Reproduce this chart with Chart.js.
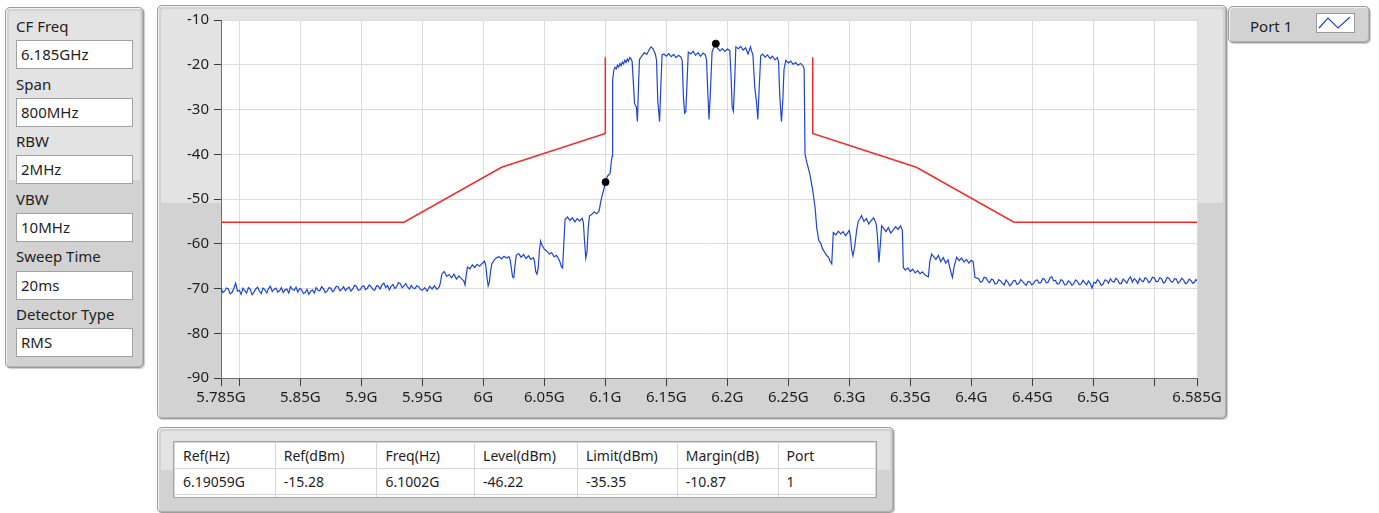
<!DOCTYPE html>
<html>
<head>
<meta charset="utf-8">
<script src="https://cdn.jsdelivr.net/npm/chart.js@4.4.1/dist/chart.umd.min.js"></script>
<style>
  body { margin:0; width:1379px; height:513px; background:#fff; overflow:hidden; position:relative;
         font-family:"Noto Sans", sans-serif; color:#1e1e1e; }
  .panel { position:absolute; box-sizing:border-box; border:1px solid #9c9c9c; border-radius:5px; background:#d2d2d2;
           box-shadow: inset 1px 1px 0 #f2f2f2, inset -1px -1px 0 #b4b4b4, 1px 1px 1px rgba(0,0,0,0.2); }
  .gloss { position:absolute; left:3px; right:3px; top:3px; height:47%; background:#e3e3e3; border-radius:3px 3px 0 0; }
  .lbl { position:absolute; font-size:15px; line-height:20px; white-space:nowrap; }
  .box { position:absolute; box-sizing:border-box; left:16px; width:117px; height:29px; background:#fff;
         border:1px solid #a2a2a2; font-size:15px; line-height:27px; padding-left:4px; }
  #chartWrap { position:absolute; left:158px; top:6px; width:1067px; height:411px; }
  #tableWrap { position:absolute; left:173px; top:441px; width:704px; height:57px; box-sizing:border-box;
               border:1px solid #a4a4a4; background:#fff; overflow:hidden; }
  #tableWrap table { border-collapse:collapse; font-size:14px; }
  #tableWrap td { border:1px solid #d6d6d6; height:25px; padding:0 0 0 8px; white-space:nowrap; }
</style>
</head>
<body>

<div class="panel" style="left:5px;top:7px;width:139px;height:361px"><div class="gloss"></div></div>
<div class="lbl" style="left:16px;top:16px">CF Freq</div>
<div class="box" style="top:40px">6.185GHz</div>
<div class="lbl" style="left:16px;top:74px">Span</div>
<div class="box" style="top:98px">800MHz</div>
<div class="lbl" style="left:16px;top:131px">RBW</div>
<div class="box" style="top:155px">2MHz</div>
<div class="lbl" style="left:16px;top:189px">VBW</div>
<div class="box" style="top:213px">10MHz</div>
<div class="lbl" style="left:16px;top:246px">Sweep Time</div>
<div class="box" style="top:271px">20ms</div>
<div class="lbl" style="left:16px;top:304px">Detector Type</div>
<div class="box" style="top:328px">RMS</div>

<div class="panel" style="left:157px;top:5px;width:1070px;height:414px"><div class="gloss"></div></div>
<div id="chartWrap"><canvas id="canvas"></canvas></div>

<div class="panel" style="left:1228px;top:6px;width:142px;height:37px"></div>
<div class="lbl" style="left:1250px;top:16px">Port 1</div>
<svg style="position:absolute;left:1316px;top:13px" width="39" height="20">
  <rect x="0.5" y="0.5" width="38" height="19" fill="#fff" stroke="#9a9a9a"/>
  <polyline points="3,15 12,5 22,15 34,4" fill="none" stroke="#1f45d4" stroke-width="1.2"/>
</svg>

<div class="panel" style="left:157px;top:427px;width:737px;height:86px"><div class="gloss"></div></div>
<div id="tableWrap"><table id="markerTable"></table></div>

<script>
// limit-line marker table
var tableHeaders = ['Ref(Hz)', 'Ref(dBm)', 'Freq(Hz)', 'Level(dBm)', 'Limit(dBm)', 'Margin(dB)', 'Port'];
var tableRow = ['6.19059G', '-15.28', '6.1002G', '-46.22', '-35.35', '-10.87', '1'];
var colWidths = [101, 102, 98, 103, 100, 101, 98];

// x axis (MHz)
var xTickValues = [5785, 5800, 5850, 5900, 5950, 6000, 6050, 6100, 6150, 6200, 6250, 6300, 6350, 6400, 6450, 6500, 6550, 6585];
var xTickLabels = ['5.785G', '', '5.85G', '5.9G', '5.95G', '6G', '6.05G', '6.1G', '6.15G', '6.2G', '6.25G', '6.3G', '6.35G', '6.4G', '6.45G', '6.5G', '', '6.585G'];

// measured spectrum, Port 1
var traceFreqMHz = [
  5785, 5786.5, 5788, 5789.5, 5791, 5792.5, 5794, 5795.5, 5797, 5798.5,
  5800, 5801.5, 5803, 5804.5, 5806, 5807.5, 5809, 5810.5, 5812, 5813.5,
  5815, 5816.5, 5818, 5819.5, 5821, 5822.5, 5824, 5825.5, 5827, 5828.5,
  5830, 5831.5, 5833, 5834.5, 5836, 5837.5, 5839, 5840.5, 5842, 5843.5,
  5845, 5846.5, 5848, 5849.5, 5851, 5852.5, 5854, 5855.5, 5857, 5858.5,
  5860, 5861.5, 5863, 5864.5, 5866, 5867.5, 5869, 5870.5, 5872, 5873.5,
  5875, 5876.5, 5878, 5879.5, 5881, 5882.5, 5884, 5885.5, 5887, 5888.5,
  5890, 5891.5, 5893, 5894.5, 5896, 5897.5, 5899, 5900.5, 5902, 5903.5,
  5905, 5906.5, 5908, 5909.5, 5911, 5912.5, 5914, 5915.5, 5917, 5918.5,
  5920, 5921.5, 5923, 5924.5, 5926, 5927.5, 5929, 5930.5, 5932, 5933.5,
  5935, 5936.5, 5938, 5939.5, 5941, 5942.5, 5944, 5945.5, 5947, 5948.5,
  5950,
  5952, 5954, 5956, 5958, 5960, 5962, 5964, 5965, 5966, 5968,
  5970, 5972, 5974, 5976, 5978, 5980, 5982, 5984, 5985, 5986,
  5987, 5989, 5991, 5993, 5995, 5997, 5999, 6001, 6002, 6003,
  6004, 6005, 6006, 6007, 6009, 6011, 6013, 6015, 6017, 6019,
  6021, 6022, 6023, 6024, 6025, 6026, 6027, 6029, 6031, 6033,
  6035, 6037, 6039, 6041, 6042, 6043, 6044, 6045, 6046, 6047,
  6048, 6050, 6052, 6054, 6056, 6058, 6060, 6062, 6063, 6064,
  6065, 6066, 6067, 6069, 6071, 6073, 6075, 6077, 6079, 6081,
  6082, 6083, 6084, 6085, 6086, 6087, 6089, 6091, 6093, 6095,
  6096, 6097, 6099, 6100.2, 6101, 6102, 6103, 6104, 6105, 6105.5,
  6106, 6107, 6108, 6109, 6110, 6111, 6112, 6113, 6114, 6115,
  6116, 6117, 6118, 6119, 6120, 6121, 6122, 6123, 6124, 6125.5,
  6126.3, 6127.3, 6128, 6130, 6132, 6134, 6136, 6137.5, 6139, 6140,
  6141, 6142, 6143, 6144.5, 6145.5, 6146.5, 6148, 6150, 6152, 6154,
  6156, 6158, 6160, 6162, 6163, 6164, 6165, 6166, 6167, 6168,
  6170, 6172, 6174, 6176, 6178, 6180, 6182, 6183, 6184, 6185,
  6186, 6187.5, 6188.5, 6190.59, 6192, 6194, 6196, 6198, 6200, 6202,
  6203, 6204, 6205, 6206, 6207, 6209, 6211, 6213, 6215, 6217,
  6219, 6220, 6221, 6222.5, 6224, 6225, 6226, 6227.4, 6229, 6231,
  6233, 6235, 6237, 6239, 6241, 6242, 6243, 6244.4, 6245.5, 6246.5,
  6248, 6250, 6252, 6254, 6256, 6258, 6260, 6262, 6263, 6263.7,
  6265, 6267.7, 6270, 6272, 6273.3, 6275, 6276.5, 6278, 6280, 6282,
  6283, 6284, 6285.6,
  6286.9, 6289, 6291, 6293, 6295, 6297, 6299, 6300, 6301, 6302,
  6303, 6304.5, 6306, 6307.4, 6309, 6310, 6312, 6314, 6316, 6318,
  6320, 6322, 6323, 6324.3, 6325.5, 6326.5, 6328, 6330, 6332, 6334,
  6336, 6338, 6340, 6342, 6343.5, 6344.3, 6346, 6348, 6350, 6352,
  6354, 6356, 6358, 6360, 6362, 6364.8, 6366, 6367.5, 6369, 6371,
  6373, 6375, 6377, 6379, 6381, 6382.5, 6384.5, 6386, 6388, 6390,
  6392, 6394, 6396, 6398, 6400, 6401.5, 6403,
  6406, 6407.5, 6409, 6410.5, 6412, 6413.5, 6415, 6416.5, 6418, 6419.5,
  6421, 6422.5, 6424, 6425.5, 6427, 6428.5, 6430, 6431.5, 6433, 6434.5,
  6436, 6437.5, 6439, 6440.5, 6442, 6443.5, 6445, 6446.5, 6448, 6449.5,
  6451, 6452.5, 6454, 6455.5, 6457, 6458.5, 6460, 6461.5, 6463, 6464.5,
  6466, 6467.5, 6469, 6470.5, 6472, 6473.5, 6475, 6476.5, 6478, 6479.5,
  6481, 6482.5, 6484, 6485.5, 6487, 6488.5, 6490, 6491.5, 6493, 6494.5,
  6496, 6497.5, 6499, 6500.5, 6502, 6503.5, 6505, 6506.5, 6508, 6509.5,
  6511, 6512.5, 6514, 6515.5, 6517, 6518.5, 6520, 6521.5, 6523, 6524.5,
  6526, 6527.5, 6529, 6530.5, 6532, 6533.5, 6535, 6536.5, 6538, 6539.5,
  6541, 6542.5, 6544, 6545.5, 6547, 6548.5, 6550, 6551.5, 6553, 6554.5,
  6556, 6557.5, 6559, 6560.5, 6562, 6563.5, 6565, 6566.5, 6568, 6569.5,
  6571, 6572.5, 6574, 6575.5, 6577, 6578.5, 6580, 6581.5, 6583, 6584,
  6585
];
var traceLevelDbm = [
  -69.8, -70.9, -70.6, -69.9, -70.1, -71.2, -70.9, -70.0, -68.8, -70.6,
  -70.4, -71.3, -69.9, -70.5, -71.0, -69.8, -70.2, -71.4, -70.8, -70.1,
  -69.7, -70.6, -71.1, -69.9, -70.3, -71.0, -70.0, -69.5, -70.7, -70.2,
  -69.9, -70.8, -70.5, -69.8, -70.9, -70.3, -70.1, -71.0, -69.6, -70.2,
  -70.4, -69.7, -70.8, -70.0, -70.2, -71.1, -70.9, -70.2, -71.3, -70.6,
  -70.3, -71.0, -69.8, -70.4, -70.5, -69.6, -70.1, -70.9, -70.6, -69.8,
  -69.9, -70.7, -70.3, -69.5, -69.6, -70.5, -70.2, -69.6, -70.5, -70.0,
  -69.7, -70.6, -70.1, -69.3, -69.5, -70.4, -70.3, -69.6, -69.4, -70.3,
  -69.9, -69.2, -69.6, -70.2, -70.4, -69.4, -69.5, -70.1, -69.2, -68.8,
  -69.8, -69.3, -70.3, -69.5, -69.1, -70.0, -69.6, -68.7, -68.9, -69.8,
  -69.4, -68.9, -69.7, -70.1, -69.3, -69.9, -70.0, -69.4, -69.6, -70.2,
  -70.4,
  -69.8, -70.6, -69.5, -70.1, -69.4, -70.2, -69.6, -68.5, -66.8, -66.2,
  -67.3, -66.9, -67.6, -66.8, -67.9, -67.2, -67.8, -68.3, -69.2, -67.0,
  -65.2, -65.6, -64.7, -65.3, -64.6, -65.0, -64.4, -63.9, -64.8, -67.5,
  -69.4, -68.6, -66.0, -64.5, -63.6, -63.1, -62.9, -63.4, -62.8, -63.2,
  -62.9, -63.6, -65.5, -67.4, -67.6, -64.8, -62.6, -62.2, -63.0, -62.4,
  -63.3, -62.7, -63.5, -63.1, -63.9, -66.2, -66.8, -65.5, -61.5, -59.4,
  -60.3, -61.2, -61.6, -62.3, -62.0, -62.9, -62.6, -63.5, -64.2, -65.1,
  -65.4, -60.0, -54.6, -54.0, -54.8, -54.2, -55.1, -54.4, -54.9, -54.3,
  -55.2, -59.5, -63.2, -61.8, -56.5, -53.8, -53.4, -52.9, -53.3, -52.6,
  -51.0, -49.7, -47.6, -46.22, -45.4, -44.8, -44.6, -44.2, -41.5, -40.5,
  -23.5, -21.2, -20.6, -20.9, -20.1, -20.5, -19.7, -20.2, -19.4, -19.8,
  -19.0, -19.5, -18.7, -19.2, -18.4, -18.6, -19.3, -24.0, -28.7, -29.5,
  -32.7, -24.0, -18.8, -18.0, -17.3, -17.7, -16.6, -16.0, -16.4, -17.0,
  -17.6, -19.0, -28.0, -32.7, -25.0, -17.8, -17.6, -18.1, -17.5, -18.2,
  -17.7, -18.4, -17.9, -18.3, -19.0, -27.0, -30.8, -30.5, -24.0, -17.2,
  -17.6, -17.0, -17.9, -17.3, -18.1, -17.4, -17.8, -19.0, -26.0, -32.2,
  -27.0, -17.2, -16.4, -15.28, -16.3, -16.9, -16.4, -17.0, -16.5, -16.8,
  -22.0, -29.5, -30.4, -24.0, -16.0, -16.4, -15.9, -16.7, -16.2, -17.6,
  -16.0, -17.0, -17.8, -25.0, -28.5, -32.2, -26.0, -18.0, -17.6, -18.3,
  -17.8, -18.6, -18.1, -18.9, -18.4, -19.3, -27.0, -32.7, -28.0, -21.0,
  -19.0, -19.6, -19.2, -19.9, -19.5, -20.1, -19.7, -20.2, -21.0, -40.0,
  -41.6, -44.5, -48.0, -52.0, -56.4, -59.3, -59.8, -61.1, -62.0, -62.8,
  -63.0, -63.8, -64.5,
  -57.5, -58.0, -57.2, -57.8, -57.3, -58.2, -57.4, -57.0, -58.5, -61.5,
  -62.7, -60.5, -57.0, -54.9, -54.3, -53.7, -55.0, -54.4, -55.6, -54.8,
  -54.2, -55.5, -58.0, -64.2, -60.0, -56.0, -56.5, -57.3, -56.4, -57.6,
  -56.9, -56.2, -56.8, -56.0, -57.0, -65.3, -65.9, -65.4, -66.2, -65.7,
  -66.5, -66.0, -66.7, -66.3, -67.0, -67.4, -64.0, -62.3, -62.8, -63.5,
  -62.6, -64.0, -63.1, -64.3, -63.6, -65.5, -67.5, -65.0, -63.0, -63.8,
  -63.2, -64.1, -63.5, -64.3, -63.7, -64.0, -67.5,
  -67.8, -68.6, -68.4, -67.5, -67.6, -68.3, -68.7, -67.9, -68.1, -69.0,
  -68.9, -68.0, -68.3, -68.8, -69.2, -68.1, -68.6, -69.4, -69.0, -68.3,
  -68.2, -69.1, -68.9, -68.0, -68.4, -68.9, -69.3, -68.4, -68.5, -69.2,
  -68.9, -68.2, -68.1, -68.8, -68.7, -67.8, -67.9, -68.7, -68.6, -67.6,
  -67.4, -68.3, -68.2, -69.0, -68.9, -68.0, -68.3, -69.2, -69.1, -68.3,
  -68.6, -69.3, -68.9, -68.1, -68.4, -69.1, -69.0, -68.2, -68.7, -69.2,
  -68.3, -68.9, -69.9, -68.6, -68.8, -68.0, -68.5, -69.3, -69.0, -68.1,
  -68.2, -68.8, -67.8, -68.4, -68.6, -67.7, -68.1, -68.9, -68.9, -67.9,
  -68.3, -68.8, -67.9, -67.4, -68.6, -67.8, -68.2, -68.9, -67.7, -68.3,
  -68.5, -67.6, -67.9, -68.7, -68.3, -67.5, -67.6, -68.5, -68.4, -67.6,
  -67.8, -68.8, -68.5, -67.5, -67.7, -68.4, -68.6, -67.8, -67.9, -68.8,
  -68.4, -67.7, -68.1, -68.9, -68.7, -67.9, -68.2, -68.8, -68.6, -68.0,
  -68.3
];

// spectrum emission mask (null = gap over the channel)
var limitFreqMHz = [5785, 5935, 6015, 6100, 6100, 6185, 6270, 6270, 6355, 6435, 6585];
var limitLevelDbm = [-55.2, -55.2, -42.9, -35.35, -18.3, null, -18.3, -35.35, -42.9, -55.2, -55.2];

// markers: ref peak and worst-margin point
var markerFreqMHz = [6190.59, 6100.2];
var markerLevelDbm = [-15.28, -46.22];

function toPoints(xs, ys) {
  return xs.map(function (x, i) { return { x: x, y: ys[i] }; });
}

// fill the table
var tbl = document.getElementById('markerTable');
[tableHeaders, tableRow, tableHeaders.map(function () { return ''; })].forEach(function (row) {
  var tr = document.createElement('tr');
  row.forEach(function (txt, i) {
    var td = document.createElement('td');
    td.textContent = txt;
    td.style.width = (colWidths[i] - 9) + 'px';
    tr.appendChild(td);
  });
  tbl.appendChild(tr);
});

var plotBackground = {
  id: 'plotBackground',
  beforeDraw: function (chart) {
    var a = chart.chartArea, ctx = chart.ctx;
    ctx.save();
    ctx.fillStyle = '#ffffff';
    ctx.fillRect(a.left, a.top, a.right - a.left, a.bottom - a.top);
    ctx.restore();
  }
};

Chart.defaults.font.family = '"Noto Sans", sans-serif';
Chart.defaults.font.size = 15;
Chart.defaults.color = '#1e1e1e';

var ctx = document.getElementById('canvas').getContext('2d');
var myChart = new Chart(ctx, {
  type: 'scatter',
  data: {
    datasets: [{
      label: 'Markers',
      data: toPoints(markerFreqMHz, markerLevelDbm),
      showLine: false,
      pointRadius: 3.5,
      backgroundColor: '#000',
      borderColor: '#000',
      order: 0
    }, {
      label: 'Port 1',
      data: toPoints(traceFreqMHz, traceLevelDbm),
      showLine: true,
      borderColor: '#1f45d4',
      borderWidth: 1.2,
      pointRadius: 0,
      tension: 0,
      order: 1
    }, {
      label: 'Limit',
      data: toPoints(limitFreqMHz, limitLevelDbm),
      showLine: true,
      spanGaps: false,
      borderColor: '#f42a2a',
      borderWidth: 1.5,
      pointRadius: 0,
      order: 2
    }]
  },
  options: {
    responsive: true,
    maintainAspectRatio: false,
    animation: false,
    layout: { padding: { top: 12, right: 28, bottom: 0, left: 0 } },
    plugins: { legend: { display: false }, tooltip: { enabled: false } },
    scales: {
      x: {
        type: 'linear',
        min: 5785,
        max: 6585,
        afterBuildTicks: function (axis) {
          axis.ticks = xTickValues.map(function (v) { return { value: v }; });
        },
        afterFit: function (axis) { axis.height = 39; },
        ticks: {
          autoSkip: false,
          maxRotation: 0,
          padding: 3,
          callback: function (value) {
            var i = xTickValues.indexOf(value);
            return i < 0 ? '' : xTickLabels[i];
          }
        },
        grid: { color: '#dcdcdc', tickColor: '#3a3a3a', tickLength: 8 },
        border: { color: '#6e6e6e' }
      },
      y: {
        min: -90,
        max: -10,
        afterFit: function (axis) { axis.width = 63; },
        ticks: { stepSize: 10, padding: 5 },
        grid: { color: '#dcdcdc', tickColor: '#3a3a3a', tickLength: 7 },
        border: { color: '#6e6e6e' }
      }
    }
  },
  plugins: [plotBackground]
});
</script>
</body>
</html>
